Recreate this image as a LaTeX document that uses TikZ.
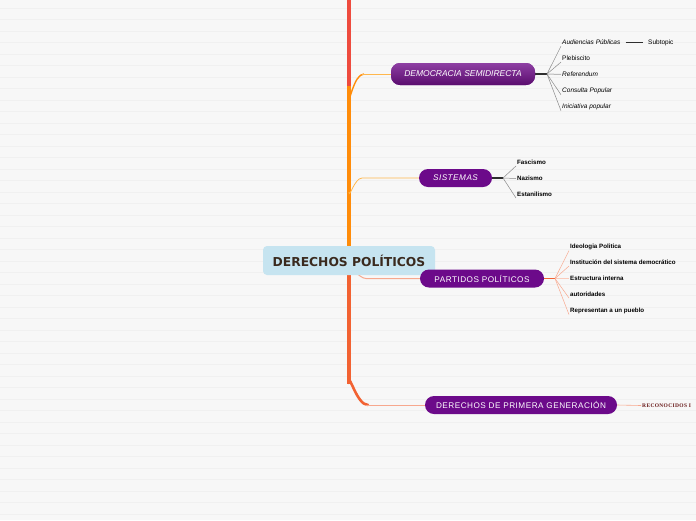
\documentclass[tikz,border=0pt]{standalone}
\usepackage{fontspec}
\setmainfont{Liberation Sans}
\newfontfamily\rootfont{DejaVu Sans}
\newfontfamily\widefont[LetterSpace=6]{Liberation Sans}
\newfontfamily\notefont[LetterSpace=6]{Liberation Serif}
\usetikzlibrary{positioning, backgrounds}
\definecolor{paper}{HTML}{F7F7F7}
\definecolor{stripe}{HTML}{F0F0F0}
\definecolor{rootBlue}{HTML}{C6E4F0}
\definecolor{rootText}{HTML}{3A2A1E}
\definecolor{topicPurple}{HTML}{6C0A8A}
\definecolor{topicLight}{HTML}{8E3FA3}
\definecolor{topicDark}{HTML}{5A0C6E}
\definecolor{trunkRed}{HTML}{EE4B3E}
\definecolor{trunkOrange}{HTML}{FF8C0A}
\definecolor{trunkCoral}{HTML}{F26232}
\definecolor{branchGold}{HTML}{FFB74D}
\definecolor{branchSalmon}{HTML}{F7A88E}
\definecolor{leafGray}{HTML}{8A8A8A}
\definecolor{hubDark}{HTML}{2E2E2E}
\definecolor{noteRed}{HTML}{6A1B1B}
\tikzset{
	root/.style={
		fill=rootBlue,
		rounded corners=4pt,
		minimum width=172pt,
		minimum height=29pt,
		text=rootText,
		font=\rootfont\fontsize{12.3}{14}\selectfont\bfseries
	},
	topic/.style={
		fill=topicPurple,
		rounded corners=9pt,
		minimum height=18pt,
		inner sep=2pt,
		text=white,
		font=\widefont\fontsize{8.2}{9}\selectfont
	},
	leafIt/.style={
		anchor=west,
		inner sep=1pt,
		font=\fontsize{6.5}{7}\selectfont\itshape
	},
	leafRm/.style={
		anchor=west,
		inner sep=1pt,
		font=\fontsize{6.5}{7}\selectfont
	},
	leafBf/.style={
		anchor=west,
		inner sep=1pt,
		font=\fontsize{6.2}{7}\selectfont\bfseries
	},
	trunk/.style={
		line width=3.5pt
	},
	twig/.style={
		line width=0.5pt
	},
}

\begin{document}
\begin{tikzpicture}[x=1pt, y=-1pt]
	\useasboundingbox (0,0) rectangle (696,520);

	% central topic
	\node [root] (root) at (349,260.5) {DERECHOS POLÍTICOS};
	\coordinate (topEnd) at (349,-4);

	% main topics
	\node [topic, minimum width=144pt, minimum height=22pt, top color=topicLight, bottom color=topicDark,
		font=\fontsize{8.5}{9}\selectfont\itshape] (democracia) at (463,74) {DEMOCRACIA SEMIDIRECTA};
	\node [topic, minimum width=73pt, font=\widefont\fontsize{8.2}{9}\selectfont\itshape] (sistemas) at (455.5,178) {SISTEMAS};
	\node [topic, minimum width=124pt] (partidos) at (482,278.5) {PARTIDOS POLÍTICOS};
	\node [topic, minimum width=192pt] (primera) at (521,405) {DERECHOS DE PRIMERA GENERACIÓN};

	% democracia semidirecta
	\coordinate (demoHub) at (547,74);
	\node [leafIt] (audiencias) at (561,42.5) {Audiencias Públicas};
	\node [leafRm] (plebiscito) at (561,58.5) {Plebiscito};
	\node [leafIt] (referendum) at (561,74.5) {Referendum};
	\node [leafIt] (consulta) at (561,90.5) {Consulta Popular};
	\node [leafIt] (iniciativa) at (561,106.5) {Iniciativa popular};
	\node [leafRm] (subtopic) at (647,42.5) {Subtopic};

	% sistemas
	\coordinate (sisHub) at (503,178);
	\node [leafBf] (fascismo) at (516,162.5) {Fascismo};
	\node [leafBf] (nazismo) at (516,178.5) {Nazismo};
	\node [leafBf] (estanilismo) at (516,194.5) {Estanilismo};

	% partidos politicos
	\coordinate (parHub) at (555,278.5);
	\node [leafBf] (ideologia) at (569,246.5) {Ideologia Politica};
	\node [leafBf] (institucion) at (569,262.5) {Institución del sistema democrático};
	\node [leafBf] (estructura) at (569,278.5) {Estructura interna};
	\node [leafBf] (autoridades) at (569,294.5) {autoridades};
	\node [leafBf] (representan) at (569,310.5) {Representan a un pueblo};

	% derechos de primera generacion
	\node [anchor=west, inner sep=1pt, text=noteRed, font=\notefont\fontsize{5.5}{6}\selectfont\bfseries] (reconocidos) at (641,405.5) {RECONOCIDOS I};

	\begin{scope}[on background layer]
		\fill [paper] (0,0) rectangle (696,520);
		\foreach \y in {8,19.5,...,520}
			\draw [stripe, line width=0.5pt] (0,\y) -- (696,\y);

		% trunk
		\draw [trunk, trunkRed] (topEnd) -- (349,90);
		\draw [trunk, trunkOrange] (root.center) -- (349,86);
		\draw [trunk, trunkCoral] (root.center) -- (349,384);

		% main branches
		\draw [trunkOrange, line width=1.4pt] (349,96) to [out=-90, in=180] (364,74);
		\draw [branchGold, line width=0.8pt] (362,74) -- (democracia.west);
		\draw [branchGold, line width=0.8pt] (349,192) to [out=-90, in=180] (362,178) -- (sistemas.west);
		\draw [branchSalmon, line width=1pt] (350,271) to [out=90, in=180] (366,278.5) -- (partidos.west);
		\draw [trunkCoral, line width=2.6pt, line cap=round] (349,383) to [out=90, in=180] (368,405);
		\draw [branchSalmon, line width=0.8pt] (366,405) -- (primera.west);

		% leaves of democracia semidirecta
		\draw [hubDark, line width=1.2pt] (democracia.east) -- (demoHub);
		\draw [twig, leafGray] (demoHub) -- (audiencias.south west);
		\draw [twig, leafGray] (demoHub) -- (plebiscito.south west);
		\draw [twig, leafGray!60, line width=1pt] (demoHub) -- (referendum.west);
		\draw [twig, leafGray] (demoHub) -- (consulta.south west);
		\draw [twig, leafGray] (demoHub) -- (iniciativa.south west);
		\draw [twig, hubDark] (audiencias.east) ++(4,0) -- ([xshift=-4pt]subtopic.west);

		% leaves of sistemas
		\draw [hubDark, line width=1.2pt] (sistemas.east) -- (sisHub);
		\draw [twig, leafGray] (sisHub) -- (fascismo.south west);
		\draw [twig, leafGray] (sisHub) -- (nazismo.west);
		\draw [twig, leafGray] (sisHub) -- (estanilismo.south west);

		% leaves of partidos politicos
		\draw [trunkCoral, line width=1.2pt] (partidos.east) -- (parHub);
		\draw [twig, branchSalmon] (parHub) -- (ideologia.south west);
		\draw [twig, branchSalmon] (parHub) -- (institucion.south west);
		\draw [twig, branchSalmon!60, line width=1pt] (parHub) -- (estructura.west);
		\draw [twig, branchSalmon] (parHub) -- (autoridades.south west);
		\draw [twig, branchSalmon] (parHub) -- (representan.south west);

		% note of derechos de primera generacion
		\draw [branchSalmon, line width=0.6pt] (primera.east) -- (reconocidos.west);
	\end{scope}
\end{tikzpicture}
\end{document}
